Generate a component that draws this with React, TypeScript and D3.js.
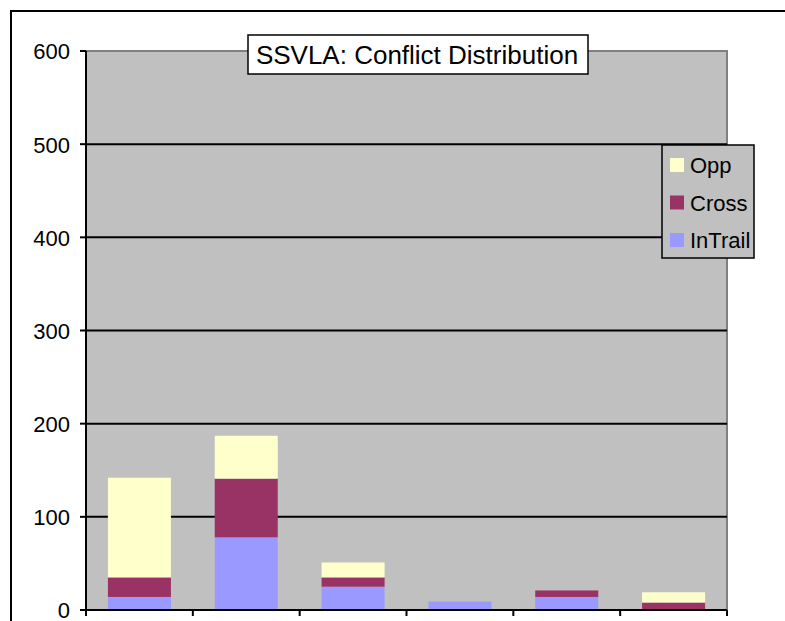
import React from 'react';
import { scaleBand, scaleLinear, stack } from 'd3';

const categories = ['c1', 'c2', 'c3', 'c4', 'c5', 'c6'];
const inTrail = [14, 78, 25, 9, 14, 0];
const cross = [21, 63, 10, 0, 7, 8];
const opp = [107, 46, 16, 0, 0, 11];
const seriesNames = ['InTrail', 'Cross', 'Opp'];
const colors = { InTrail: '#9999FF', Cross: '#993366', Opp: '#FFFFCC' };
const yTicks = [0, 100, 200, 300, 400, 500, 600];

const W = 785;
const H = 621;
const plot = { left: 86, top: 51, right: 727, bottom: 610 };
const font = 'Arial, "Liberation Sans", sans-serif';

export default function App() {
  const rows = categories.map((c, i) => ({
    cat: c,
    InTrail: inTrail[i],
    Cross: cross[i],
    Opp: opp[i],
  }));
  const layers = stack<any>().keys(seriesNames)(rows);

  const x = scaleBand<string>()
    .domain(categories)
    .range([plot.left, plot.right])
    .paddingInner(0.41)
    .paddingOuter(0.205);
  const step = (plot.right - plot.left) / categories.length;
  const y = scaleLinear().domain([0, 600]).range([plot.bottom, plot.top]);

  return (
    <svg
      width={W}
      height={H}
      style={{ position: 'absolute', left: 0, top: 0, background: '#fff' }}
    >
      {/* outer frame */}
      <rect x={11} y={11} width={W + 10} height={H + 10} fill="#fff" stroke="#000" strokeWidth={2} />

      {/* plot area */}
      <rect
        x={plot.left}
        y={plot.top}
        width={plot.right - plot.left}
        height={plot.bottom - plot.top}
        fill="#C0C0C0"
        stroke="#808080"
        strokeWidth={2}
      />

      {/* gridlines */}
      {yTicks.slice(1, -1).map((t) => (
        <line key={t} x1={plot.left} x2={plot.right} y1={y(t)} y2={y(t)} stroke="#000" strokeWidth={2} />
      ))}

      {/* bars */}
      {layers.map((layer) => (
        <g key={layer.key} fill={(colors as any)[layer.key]}>
          {layer.map((d, i) =>
            d[1] - d[0] > 0 ? (
              <rect
                key={i}
                x={x(categories[i])}
                y={y(d[1])}
                width={x.bandwidth()}
                height={y(d[0]) - y(d[1])}
              />
            ) : null
          )}
        </g>
      ))}

      {/* axes */}
      <line x1={plot.left} x2={plot.left} y1={plot.top} y2={plot.bottom + 1} stroke="#000" strokeWidth={2} />
      <line x1={plot.left - 1} x2={plot.right} y1={plot.bottom} y2={plot.bottom} stroke="#000" strokeWidth={2} />
      {yTicks.map((t) => (
        <g key={t}>
          <line x1={plot.left - 6} x2={plot.left} y1={y(t)} y2={y(t)} stroke="#000" strokeWidth={2} />
          <text
            x={70}
            y={y(t)}
            dy="0.38em"
            textAnchor="end"
            fontFamily={font}
            fontSize={22}
            fill="#000"
          >
            {t}
          </text>
        </g>
      ))}
      {categories.concat(['end']).map((c, i) => (
        <line
          key={c}
          x1={plot.left + i * step}
          x2={plot.left + i * step}
          y1={plot.bottom}
          y2={plot.bottom + 6}
          stroke="#000"
          strokeWidth={2}
        />
      ))}

      {/* title */}
      <rect x={248} y={35} width={340} height={39} fill="#fff" stroke="#000" strokeWidth={1.5} />
      <text x={417} y={64} textAnchor="middle" fontFamily={font} fontSize={26} fill="#000">
        SSVLA: Conflict Distribution
      </text>

      {/* legend */}
      <rect x={662} y={145} width={92} height={113} fill="#C0C0C0" stroke="#000" strokeWidth={1.5} />
      {['Opp', 'Cross', 'InTrail'].map((k, i) => (
        <g key={k} transform={`translate(670, ${158 + i * 37.5})`}>
          <rect x={0} y={0} width={14} height={14} fill={(colors as any)[k]} />
          <text x={20} y={7} dy="0.37em" fontFamily={font} fontSize={22} fill="#000">
            {k}
          </text>
        </g>
      ))}
    </svg>
  );
}
